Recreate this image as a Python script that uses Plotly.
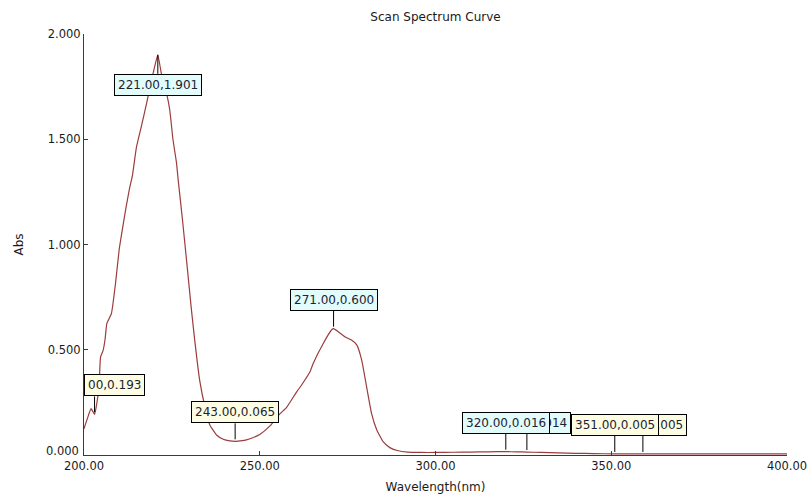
import plotly.graph_objects as go

# Scanned absorbance spectrum (wavelength in nm, absorbance)
wavelength = [
    200.0, 201.0, 202.0, 202.8, 203.0, 203.6, 204.3, 204.7, 205.4, 206.0,
    206.5, 207.8, 209.0, 210.0, 211.0, 212.0, 213.0, 213.8, 214.9, 216.3,
    217.8, 219.2, 220.1, 221.0, 222.0, 223.5, 224.4, 225.3, 226.3, 226.8,
    228.0, 229.5, 230.5, 231.5, 232.9, 234.4, 235.8, 237.7, 239.6, 241.5,
    243.0, 245.0, 246.2, 248.0, 250.0, 252.9, 255.7, 257.6, 260.5, 262.0,
    264.3, 265.2, 268.1, 270.4, 271.0, 272.3, 274.2, 276.1, 277.6, 279.0,
    280.4, 281.8, 283.3, 285.1, 287.0, 289.4, 292.0, 296.0, 300.0, 305.0,
    310.0, 315.0, 320.0, 323.0, 326.0, 330.0, 335.0, 340.0, 345.0, 351.0,
    355.0, 359.0, 365.0, 370.0, 375.0, 380.0, 385.0, 390.0, 395.0, 400.0,
]
absorbance = [
    0.125, 0.175, 0.220, 0.198, 0.193, 0.240, 0.330, 0.465, 0.495, 0.550,
    0.625, 0.672, 0.820, 0.975, 1.080, 1.180, 1.270, 1.330, 1.460, 1.560,
    1.670, 1.780, 1.845, 1.901, 1.813, 1.718, 1.639, 1.500, 1.390, 1.306,
    1.120, 0.870, 0.700, 0.546, 0.356, 0.229, 0.143, 0.095, 0.075, 0.067,
    0.065, 0.068, 0.072, 0.082, 0.097, 0.138, 0.195, 0.225, 0.300, 0.335,
    0.395, 0.435, 0.531, 0.594, 0.600, 0.586, 0.562, 0.546, 0.523, 0.451,
    0.324, 0.198, 0.119, 0.063, 0.035, 0.020, 0.014, 0.012, 0.012, 0.013,
    0.014, 0.015, 0.016, 0.015, 0.014, 0.012, 0.010, 0.008, 0.007, 0.005,
    0.006, 0.005, 0.006, 0.005, 0.006, 0.005, 0.006, 0.005, 0.006, 0.005,
]

# Picked peaks / valleys, in drawing order (later labels sit on top)
mark_wl = [203.0, 221.0, 243.0, 271.0, 326.0, 320.0, 359.0, 351.0]
mark_abs = [0.193, 1.901, 0.065, 0.600, 0.014, 0.016, 0.005, 0.005]
mark_kind = ["valley", "peak", "valley", "peak", "peak", "peak", "valley", "valley"]
mark_below = [False, True, False, False, False, False, False, False]

x_ticks = [200, 250, 300, 350, 400]
y_ticks = [0.0, 0.5, 1.0, 1.5, 2.0]
X_RANGE = [200, 400]
Y_RANGE = [0, 2]

FONT = "DejaVu Sans"
TEXT_COLOR = "#1a1a1a"
LABEL_SIZE = 12
LABEL_PAD = 4  # border + padding, px
FILL = {"peak": "#e2fcfc", "valley": "#fdfde3"}
MARGIN = dict(l=84, r=22, t=34, b=39)
PLOT_W = 809 - MARGIN["l"] - MARGIN["r"]


def char_width(ch):
    """Approximate advance width of a label character in px."""
    return LABEL_SIZE * (0.318 if ch in ".," else 0.636)


fig = go.Figure()
fig.add_trace(go.Scatter(
    x=wavelength, y=absorbance, mode="lines",
    line=dict(color="#9c3c3c", width=1.2, shape="spline", smoothing=0.4),
    hoverinfo="x+y", showlegend=False,
))

annotations = []
shapes = []
for wl, a, kind, below in zip(mark_wl, mark_abs, mark_kind, mark_below):
    text = f"{wl:.2f},{a:.3f}"
    x_pos, anchor = wl, "center"
    # a label running past the left axis is cut there: drop the
    # characters that would lie entirely outside the plot area
    px_from_axis = (wl - X_RANGE[0]) / (X_RANGE[1] - X_RANGE[0]) * PLOT_W
    half_w = sum(char_width(c) for c in text) / 2 + LABEL_PAD
    if px_from_axis < half_w:
        hidden = half_w - px_from_axis - LABEL_PAD
        while text and char_width(text[0]) <= hidden:
            hidden -= char_width(text[0])
            text = text[1:]
        x_pos, anchor = X_RANGE[0], "left"
    annotations.append(dict(
        x=x_pos, y=a, xref="x", yref="y", text=text, showarrow=False,
        xanchor=anchor, yanchor="middle", yshift=-30 if below else 29,
        font=dict(family=FONT, size=LABEL_SIZE, color="#1c2234"),
        bgcolor=FILL[kind], bordercolor="#000000", borderwidth=1, borderpad=3,
    ))
    shapes.append(dict(
        type="line", xref="x", yref="y", ysizemode="pixel", yanchor=a,
        x0=wl, x1=wl, y0=0 if below else 2, y1=-19 if below else 18,
        line=dict(color="#000000", width=1), layer="above",
    ))

# y tick labels; the one at the origin is lifted clear of the x labels
y_ticktext = [f"{v:.3f}" for v in y_ticks]
origin_label = y_ticktext[0]
y_ticktext[0] = ""
annotations.append(dict(
    x=0, xref="paper", y=Y_RANGE[0], yref="y", text=origin_label,
    showarrow=False, xanchor="right", yanchor="middle", xshift=-3, yshift=4,
    font=dict(family=FONT, size=11.5, color=TEXT_COLOR),
))

axis_common = dict(
    showline=True, linecolor="#3a3a3a", linewidth=1,
    ticks="inside", ticklen=4, tickcolor="#3a3a3a", tickwidth=1,
    showgrid=False, zeroline=False, automargin=False,
    tickfont=dict(family=FONT, size=11.5, color=TEXT_COLOR),
)

fig.update_layout(
    width=809, height=494,
    margin=MARGIN,
    paper_bgcolor="white", plot_bgcolor="white",
    title=dict(
        text="Scan Spectrum Curve", x=0.5, xref="paper", xanchor="center",
        y=1 - 17 / 494, yref="container", yanchor="middle",
        font=dict(family=FONT, size=12, color=TEXT_COLOR),
    ),
    xaxis=dict(
        range=X_RANGE, tickvals=x_ticks, tickformat=".2f",
        title=dict(text="Wavelength(nm)", standoff=11,
                   font=dict(family=FONT, size=12, color=TEXT_COLOR)),
        **axis_common,
    ),
    yaxis=dict(
        range=Y_RANGE, tickvals=y_ticks, ticktext=y_ticktext,
        title=dict(text="Abs", standoff=21,
                   font=dict(family=FONT, size=12, color=TEXT_COLOR)),
        **axis_common,
    ),
    annotations=annotations,
    shapes=shapes,
)

fig.write_html("out.html")
